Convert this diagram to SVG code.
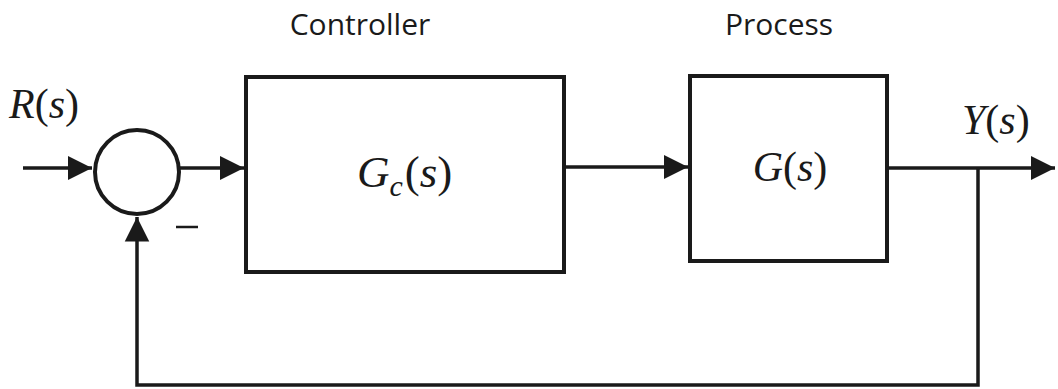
<svg xmlns="http://www.w3.org/2000/svg" width="1058" height="389" viewBox="0 0 1058 389">
<style>
.box{fill:none;stroke:#1a1a1a;stroke-width:4}
.ln{fill:none;stroke:#1a1a1a;stroke-width:3.5}
.lab{font-family:"Open Sans","Liberation Sans",sans-serif;font-size:30px;fill:#1a1a1a}
.math{font-family:"Liberation Serif","DejaVu Serif",serif;font-style:italic;font-size:42px;fill:#1a1a1a}
.up{font-style:normal}
</style>
<defs>
<marker id="ah" markerWidth="8" markerHeight="8" refX="7" refY="4" orient="auto" markerUnits="strokeWidth">
<path d="M0,0.5 L7,4 L0,7.5 Z" fill="#1a1a1a"/>
</marker>
</defs>
<rect width="1058" height="389" fill="#fff"/>
<text class="lab" x="360" y="35" text-anchor="middle">Controller</text>
<text class="lab" x="779" y="35" text-anchor="middle">Process</text>
<text class="math" x="9" y="118">R<tspan class="up">(</tspan>s<tspan class="up">)</tspan></text>
<text class="math" x="962" y="134">Y<tspan class="up">(</tspan>s<tspan class="up">)</tspan></text>
<g id="sum">
<circle cx="137" cy="172" r="42" fill="none" stroke="#1a1a1a" stroke-width="4"/>
<line x1="176" y1="227" x2="198" y2="227" stroke="#1a1a1a" stroke-width="2.5"/>
</g>
<g id="controller">
<rect class="box" x="246" y="77" width="318" height="195"/>
<text class="math" x="357" y="187" style="font-size:45px">G<tspan style="font-size:30px" dy="9">c</tspan><tspan class="up" dy="-9" dx="2">(</tspan>s<tspan class="up">)</tspan></text>
</g>
<g id="process">
<rect class="box" x="690" y="76" width="197" height="185"/>
<text class="math" x="790" y="181" text-anchor="middle">G<tspan class="up">(</tspan>s<tspan class="up">)</tspan></text>
</g>
<g id="connectors">
<line class="ln" x1="23" y1="168" x2="92" y2="168" marker-end="url(#ah)"/>
<line class="ln" x1="180" y1="168" x2="244" y2="168" marker-end="url(#ah)"/>
<line class="ln" x1="564" y1="167" x2="688" y2="167" marker-end="url(#ah)"/>
<line class="ln" x1="887" y1="168" x2="1055" y2="168" marker-end="url(#ah)"/>
<polyline class="ln" points="978,168 978,385 137,385 137,217" marker-end="url(#ah)"/>
</g>
</svg>
